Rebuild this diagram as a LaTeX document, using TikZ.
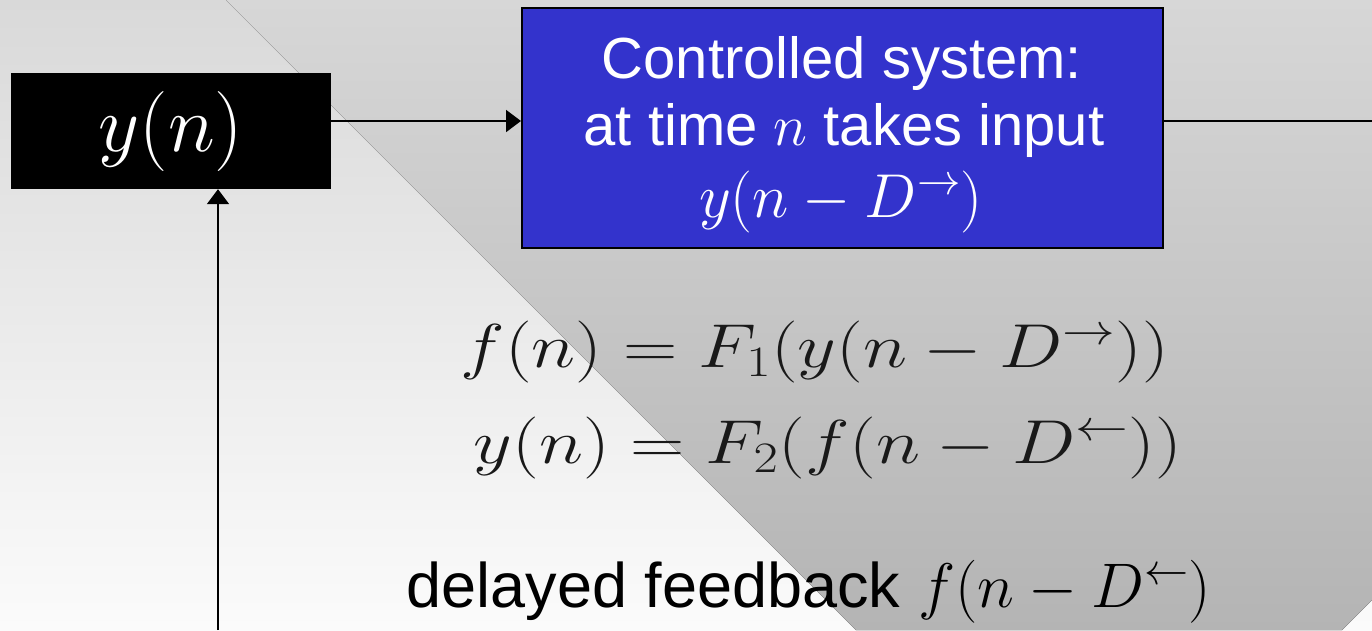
\RequirePackage{fix-cm}
\documentclass[tikz,border=0pt]{standalone}
\usepackage{fontspec}
\setsansfont{Liberation Sans}
\usetikzlibrary{arrows.meta}

\definecolor{pagetop}{HTML}{D9D9D9}
\definecolor{pagebot}{HTML}{FBFBFB}
\definecolor{wedgetop}{HTML}{D7D7D7}
\definecolor{wedgebot}{HTML}{B4B4B4}
\definecolor{sysblue}{HTML}{3333CC}

\tikzset{
  flow/.style={line width=2pt, -{Triangle[length=15pt,width=22pt]}},
  wire/.style={line width=2pt},
  sigbox/.style={fill=black, text=white, inner sep=0pt,
    minimum width=320pt, minimum height=116pt,
    font=\fontsize{80}{96}\selectfont},
  sysbox/.style={fill=sysblue, draw=black, line width=2pt, inner sep=0pt,
    minimum width=641pt, minimum height=240pt},
  systext/.style={text=white, inner sep=0pt, anchor=base,
    font=\sffamily\fontsize{58}{68}\selectfont},
  eqn/.style={text=black!90, inner sep=0pt, anchor=base,
    font=\fontsize{62}{74}\selectfont},
  note/.style={text=black, inner sep=0pt, anchor=base,
    font=\fontsize{63}{75}\selectfont},
}

\begin{document}
\begin{tikzpicture}[x=1pt, y=-1pt]
  \useasboundingbox (0,0) rectangle (1372,630);

  % slide background: light page with a darker wedge
  \fill[top color=pagetop, bottom color=pagebot] (0,0) rectangle (1372,630);
  \fill[top color=wedgetop, bottom color=wedgebot]
    (226,0) -- (1372,0) -- (1372,600) -- (1342,630) -- (856,630) -- cycle;

  % blocks
  \node[sigbox] (yn) at (171,131) {$y(n)$};
  \node[sysbox] (ctrl) at (842.5,128) {};
  \node[systext] (ctrlA) at (842,78) {Controlled system:};
  \node[systext] (ctrlB) at (844,145) {at time $n$ takes input};
  \node[systext, font=\fontsize{62}{74}\selectfont] (ctrlC) at (841,217)
    {$y(n-D^{\rightarrow})$};

  % loop equations
  \node[eqn] (eqA) at (815,367)
    {\scalebox{1.215}[1]{$f(n)=F_1(y(n-D^{\rightarrow}))$}};
  \node[eqn] (eqB) at (828,463)
    {\scalebox{1.215}[1]{$y(n)=F_2(f(n-D^{\leftarrow}))$}};

  % feedback label
  \node[note] (fb) at (809,607)
    {\sffamily delayed feedback \rmfamily$f(n-D^{\leftarrow})$};

  % connectors
  \coordinate (outR) at (1372,121);
  \coordinate (fbIn) at (218,630);
  \draw[flow] ([yshift=10pt]yn.east) -- ([yshift=10pt]yn.east -| ctrl.west);
  \draw[wire] (ctrl.east |- outR) -- (outR);
  \draw[flow] (fbIn) -- (fbIn |- yn.south);
\end{tikzpicture}
\end{document}
